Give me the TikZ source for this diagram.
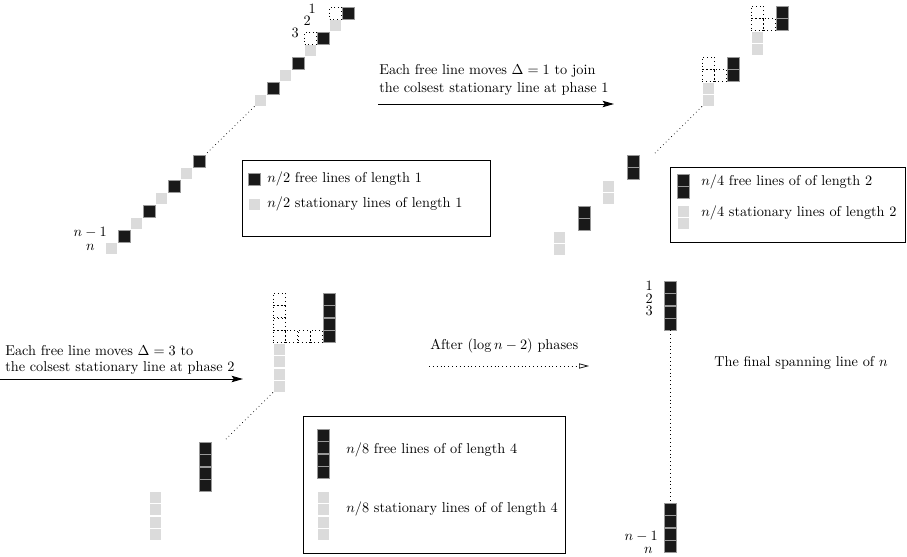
\documentclass[tikz,border=0pt]{standalone}
\usetikzlibrary{arrows.meta}
\begin{document}
\begin{tikzpicture}[x=0.7pt,y=-0.7pt,
  sq/.style={rectangle, minimum size=8.4pt, inner sep=0pt, outer sep=0pt, anchor=north west},
  freesq/.style={sq, fill=black!90, draw=black!40, line width=0.35pt},
  statsq/.style={sq, fill=black!14, draw=white, line width=0.35pt},
  ghostsq/.style={sq, draw=black, line width=0.55pt, dash pattern=on 0.55pt off 2.1pt},
  lbl/.style={inner sep=0pt, anchor=west},
  idx/.style={inner sep=0pt, anchor=east},
  link/.style={line width=0.5pt, dash pattern=on 0.5pt off 2.2pt},
  legbox/.style={rectangle, draw=black, line width=0.6pt, anchor=north west, inner sep=0pt},
  mainarrow/.style={line width=0.6pt, -{Stealth[length=8pt,width=4.5pt,inset=1.5pt]}},
  phasearrow/.style={line width=0.5pt, dash pattern=on 0.5pt off 2.2pt, -{Triangle[open,length=7pt,width=3.6pt,line width=0.5pt]}},
  ]
\useasboundingbox (0,0) rectangle (907,557);

% ---------- phase 0: staircase of n lines of length 1 ----------
\foreach \i in {0,2,4,6} \node[freesq] (ta\i) at ({342-12.5*\i},{7+12.5*\i}) {};
\foreach \i in {1,3,5,7} \node[statsq] (ta\i) at ({342-12.5*\i},{7+12.5*\i}) {};
\foreach \i in {0,2,4,6} \node[freesq] (tb\i) at ({193-12.5*\i},{155+12.5*\i}) {};
\foreach \i in {1,3,5,7} \node[statsq] (tb\i) at ({193-12.5*\i},{155+12.5*\i}) {};
\node[ghostsq] (tg1) at (329.5,7) {};
\node[ghostsq] (tg3) at (304.5,32) {};
\draw[link] (ta7.south west) -- (tb0.north east);
\node[idx] (tl1) at (316,8.5) {1};
\node[idx] (tl2) at (311,21) {2};
\node[idx] (tl3) at (299,33) {3};
\node[idx] (tln1) at (107,232.5) {$n-1$};
\node[idx] (tln) at (95,247) {$n$};

% legend of phase 0
\node[legbox, minimum width=173.6pt, minimum height=53.2pt] (leg1) at (242,160) {};
\node[freesq] (l1f) at (248,173) {};
\node[statsq] (l1s) at (248,198) {};
\node[lbl] (l1ft) at (267,179) {$n/2$ free lines of length 1};
\node[lbl] (l1st) at (267,204) {$n/2$ stationary lines of length 1};

% ---------- arrow to phase 1 ----------
\coordinate (a1s) at (378,104);
\coordinate (a1e) at (614,104);
\draw[mainarrow] (a1s) -- (a1e);
\node[lbl] (a1t1) at (379,71) {Each free line moves $\Delta=1$ to join};
\node[lbl] (a1t2) at (379,89) {the colsest stationary line at phase 1};

% ---------- phase 1: lines of length 2 ----------
\foreach \g/\x/\y in {A/776/6, B/727/57, C/627/155, D/578/206} {
  \node[freesq] (tr\g1) at (\x,\y) {};
  \node[freesq] (tr\g2) at (\x,\y+12.5) {};
  \node[statsq] (ts\g1) at (\x-25,\y+25) {};
  \node[statsq] (ts\g2) at (\x-25,\y+37.5) {};
}
\foreach \g/\x/\y in {A/751/6, B/702/57} {
  \node[ghostsq] (tq\g1) at (\x,\y) {};
  \node[ghostsq] (tq\g2) at (\x,\y+12.5) {};
  \node[ghostsq] (tq\g3) at (\x+12.5,\y+12.5) {};
}
\coordinate (trgap) at (653,155);
\draw[link] (tsB2.south west) -- (trgap);

% legend of phase 1
\node[legbox, minimum width=164.5pt, minimum height=52.5pt] (leg2) at (670,167) {};
\node[freesq] (l2f1) at (677,174) {};
\node[freesq] (l2f2) at (677,186.5) {};
\node[statsq] (l2s1) at (677,205) {};
\node[statsq] (l2s2) at (677,217.5) {};
\node[lbl] (l2ft) at (701,182) {$n/4$ free lines of of length 2};
\node[lbl] (l2st) at (701,213) {$n/4$ stationary lines of length 2};

% ---------- arrow to phase 2 ----------
\coordinate (a2s) at (0,379);
\coordinate (a2e) at (243,379);
\draw[mainarrow] (a2s) -- (a2e);
\node[lbl] (a2t1) at (5,351) {Each free line moves $\Delta=3$ to};
\node[lbl] (a2t2) at (5,368) {the colsest stationary line at phase 2};

% ---------- phase 2: lines of length 4 ----------
\foreach \k in {0,1,2,3} {
  \node[freesq] (bf\k) at (323,{293+12.5*\k}) {};
  \node[ghostsq] (bq\k) at (273,{293+12.5*\k}) {};
  \node[statsq] (bs\k) at (273,{343+12.5*\k}) {};
  \node[freesq] (bg\k) at (199,{442+12.5*\k}) {};
  \node[statsq] (bh\k) at (149,{491+12.5*\k}) {};
}
\foreach \k in {1,2,3} \node[ghostsq] (br\k) at ({273+12.5*\k},330.5) {};
\coordinate (blgap) at (224,441);
\draw[link] (bs3.south west) -- (blgap);

% legend of phase 2
\node[legbox, minimum width=183.4pt, minimum height=95.9pt] (leg3) at (303,416) {};
\foreach \k in {0,1,2,3} {
  \node[freesq] (l3f\k) at (317,{429+12.5*\k}) {};
  \node[statsq] (l3s\k) at (317,{491+12.5*\k}) {};
}
\node[lbl] (l3ft) at (346,450) {$n/8$ free lines of of length 4};
\node[lbl] (l3st) at (346,509) {$n/8$ stationary lines of of length 4};

% ---------- remaining phases ----------
\coordinate (a3s) at (429,366);
\coordinate (a3e) at (589,366);
\draw[phasearrow] (a3s) -- (a3e);
\node[lbl] (a3t) at (430,346) {After $(\log n-2)$ phases};

% ---------- final spanning line ----------
\foreach \k in {0,1,2,3} {
  \node[freesq] (fa\k) at (664,{281+12.4*\k}) {};
  \node[freesq] (fb\k) at (664,{503+12.4*\k}) {};
}
\draw[link] (fa3.south) -- (fb0.north);
\node[idx] (fl1) at (653,286) {1};
\node[idx] (fl2) at (653,298.5) {2};
\node[idx] (fl3) at (653,311) {3};
\node[idx] (fln1) at (658,536) {$n-1$};
\node[idx] (fln) at (653,550) {$n$};
\node[lbl] (ft) at (714,363) {The final spanning line of $n$};
\end{tikzpicture}
\end{document}
